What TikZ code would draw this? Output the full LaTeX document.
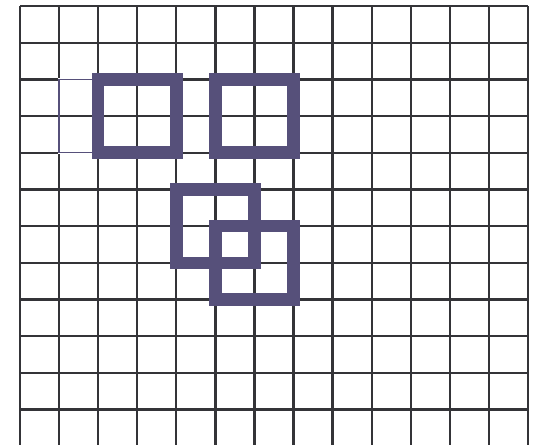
\documentclass[tikz,border=0pt]{standalone}
\usepackage{tikz}
\definecolor{gridGray}{RGB}{52, 52, 56}
\definecolor{boxPurple}{RGB}{86, 80, 122}

\begin{document}
\begin{tikzpicture}[
    x=1cm, y=0.939cm,
    gridline/.style={draw=gridGray, line width=1.7pt},
    thinbox/.style={draw=boxPurple, line width=1pt},
    eraser/.style={draw=white, line width=1.8pt},
    thickbox/.style={draw=boxPurple, line width=9.2pt}
]
\useasboundingbox (-0.512,0.04) rectangle (13.128,12.163);

% grid
\foreach \c in {0,...,13}
    \draw[gridline] (\c,0.04) -- (\c,12);
\foreach \r in {1,...,12}
    \draw[gridline] (0,\r) -- (13,\r);

% boxes
\draw[eraser]   (1,10) rectangle (2,8);
\draw[thinbox]  (1,10) rectangle (2,8);
\draw[thickbox] (2,10) rectangle (4,8);
\draw[thickbox] (5,10) rectangle (7,8);
\draw[thickbox] (4,7) rectangle (6,5);
\draw[thickbox] (5,6) rectangle (7,4);
\end{tikzpicture}
\end{document}
